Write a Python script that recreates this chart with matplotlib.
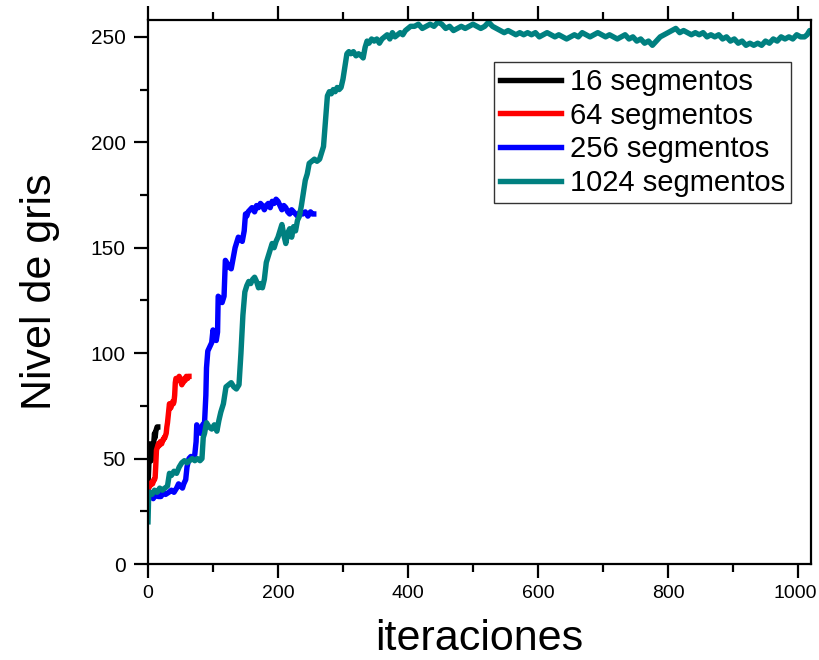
import matplotlib
matplotlib.use("Agg")
import matplotlib.pyplot as plt
import matplotlib.transforms as mtransforms
from matplotlib.ticker import MultipleLocator

plt.rcParams['font.family'] = ['Liberation Sans', 'DejaVu Sans']

# ---- data ----
labels = ["16 segmentos", "64 segmentos", "256 segmentos", "1024 segmentos"]
colors = ["#000000", "#ff0000", "#0000ff", "#008080"]

x16 = list(range(16))
y16 = [38, 45, 54, 57, 52, 49, 53, 56, 55, 58, 62, 60, 63, 64, 65, 65]

y64 = [35, 36, 37, 37, 38, 38, 39, 38, 39, 40,
       40, 41, 47, 54, 55, 56, 57, 56, 57, 58,
       58, 57, 58, 59, 59, 60, 60, 61, 62, 65,
       67, 70, 73, 76, 75, 74, 75, 76, 77, 76,
       77, 80, 86, 88, 88, 87, 88, 88, 89, 88,
       87, 86, 85, 86, 86, 87, 88, 87, 88, 89,
       88, 88, 89, 89]
x64 = list(range(len(y64)))

x256 = [0, 2, 5, 8, 12, 16, 20, 23, 27, 32,
        36, 40, 44, 47, 50, 53, 55, 58, 60, 63,
        66, 70, 72, 74, 75, 78, 81, 84, 87, 89,
        90, 92, 95, 98, 100, 102, 105, 107, 108, 111,
        114, 117, 119, 121, 124, 128, 131, 134, 136, 139,
        142, 145, 148, 150, 152, 154, 157, 160, 164, 167,
        170, 173, 176, 179, 182, 185, 188, 191, 194, 197,
        200, 203, 206, 209, 212, 215, 218, 221, 224, 227,
        230, 234, 238, 242, 246, 250, 253, 255]
y256 = [31, 34, 32, 31, 33, 32, 32, 34, 33, 34,
        35, 34, 36, 38, 37, 36, 38, 40, 46, 50,
        51, 50, 52, 58, 66, 64, 62, 66, 67, 80,
        93, 101, 103, 105, 111, 108, 106, 110, 127, 126,
        124, 127, 144, 143, 141, 140, 145, 150, 152, 155,
        154, 153, 158, 166, 165, 167, 168, 169, 167, 170,
        169, 171, 170, 168, 170, 171, 169, 172, 171, 173,
        172, 170, 168, 170, 169, 167, 166, 168, 167, 166,
        165, 167, 166, 167, 165, 167, 166, 166]

x1024 = [0, 1, 3, 6, 10, 14, 18, 22, 26, 30,
         33, 36, 40, 44, 48, 52, 56, 60, 64, 68,
         72, 76, 80, 83, 85, 87, 90, 94, 98, 102,
         106, 109, 112, 116, 120, 124, 128, 132, 136, 140,
         143, 146, 149, 152, 155, 158, 161, 164, 167, 170,
         173, 176, 179, 182, 185, 188, 191, 194, 197, 200,
         203, 206, 209, 212, 215, 218, 221, 224, 227, 230,
         233, 236, 239, 242, 245, 248, 252, 256, 260, 264,
         267, 270, 273, 276, 279, 282, 285, 288, 291, 294,
         297, 300, 303, 306, 309, 312, 316, 320, 324, 328,
         331, 334, 337, 340, 344, 348, 352, 356, 360, 364,
         368, 372, 376, 380, 384, 388, 392, 396, 400, 404,
         410, 416, 422, 428, 434, 440, 446, 452, 458, 464,
         470, 476, 482, 488, 494, 500, 506, 512, 518, 524,
         530, 536, 542, 548, 554, 560, 566, 572, 578, 584,
         590, 596, 602, 608, 614, 620, 626, 632, 638, 644,
         650, 656, 662, 668, 674, 680, 686, 692, 698, 704,
         710, 716, 722, 728, 734, 740, 746, 752, 758, 764,
         770, 776, 782, 788, 794, 800, 806, 812, 818, 824,
         830, 836, 842, 848, 854, 860, 866, 872, 878, 884,
         890, 896, 902, 908, 914, 920, 926, 932, 938, 944,
         950, 956, 962, 968, 974, 980, 986, 992, 998, 1004,
         1010, 1014, 1018, 1023]
y1024 = [20, 32, 34, 33, 35, 34, 36, 35, 36, 37,
         43, 42, 44, 43, 46, 48, 49, 48, 49, 50,
         49, 50, 49, 50, 60, 62, 67, 65, 64, 66,
         63, 68, 72, 76, 84, 85, 86, 84, 83, 85,
         100, 118, 129, 132, 134, 133, 135, 136, 134, 131,
         133, 131, 135, 143, 146, 149, 152, 150, 153, 155,
         158, 161, 156, 152, 157, 159, 155, 160, 158, 163,
         165, 170, 176, 182, 185, 190, 191, 192, 191, 192,
         195, 198, 210, 222, 224, 223, 225, 224, 226, 225,
         226, 230, 236, 242, 243, 242, 243, 241, 242, 241,
         240, 245, 248, 247, 249, 248, 249, 247, 249, 250,
         251, 249, 252, 250, 251, 252, 251, 253, 254, 255,
         255, 256, 254, 255, 256, 255, 257, 256, 254, 255,
         253, 254, 255, 254, 255, 256, 255, 254, 255, 257,
         255, 254, 253, 252, 253, 252, 251, 252, 251, 252,
         251, 252, 250, 251, 252, 251, 250, 251, 250, 249,
         250, 251, 250, 252, 251, 250, 251, 252, 251, 250,
         251, 250, 249, 250, 251, 249, 250, 248, 249, 247,
         248, 246, 248, 250, 251, 252, 253, 254, 252, 253,
         252, 251, 252, 251, 252, 250, 251, 250, 251, 249,
         250, 248, 249, 247, 248, 246, 247, 246, 247, 246,
         248, 247, 249, 248, 250, 249, 250, 249, 251, 250,
         250, 251, 253, 251]

xticks = [0, 200, 400, 600, 800, 1000]
yticks = [0, 50, 100, 150, 200, 250]

# ---- figure ----
fig = plt.figure(figsize=(8.19, 6.60), dpi=100)
ax = fig.add_axes([148/819, 1 - 564/660, (811-148)/819, (564-20)/660])

series = [(x16, y16), (x64, y64), (x256, y256), (x1024, y1024)]
for (xs, ys), lab, col in zip(series, labels, colors):
    ax.plot(xs, ys, color=col, lw=3.9, label=lab, solid_joinstyle='round')

ax.set_xlim(0, 1020)
ax.set_ylim(0, 258)
ax.set_xticks(xticks)
ax.set_yticks(yticks)
ax.xaxis.set_minor_locator(MultipleLocator(100))
ax.yaxis.set_minor_locator(MultipleLocator(25))

for sp in ax.spines.values():
    sp.set_linewidth(1.6)

ax.tick_params(axis='both', which='major', direction='out', length=10, width=1.6,
               labelsize=15, top=True, right=False, labeltop=False)
ax.tick_params(axis='both', which='minor', direction='out', length=6, width=1.6,
               top=True, right=False)
ax.tick_params(axis='x', which='major', pad=5, labelsize=14)
ax.tick_params(axis='y', which='major', pad=6)

# keep the last x tick label inside the canvas
fig.canvas.draw()
last = ax.get_xticklabels()[-1]
last.set_transform(last.get_transform() +
                   mtransforms.ScaledTranslation(-3/100, 0, fig.dpi_scale_trans))

ax.set_xlabel("iteraciones", fontsize=31, labelpad=12)
ax.set_ylabel("Nivel de gris", fontsize=31, labelpad=22)

leg = ax.legend(loc='upper right', bbox_to_anchor=((791-148)/(811-148), (564-62)/(564-20)),
                borderaxespad=0, fontsize=21, frameon=True, fancybox=False,
                handlelength=2.1, handletextpad=0.3, labelspacing=0.2,
                borderpad=0.2)
leg.get_frame().set_edgecolor('black')
leg.get_frame().set_linewidth(1.0)
for line in leg.get_lines():
    line.set_linewidth(3.9)

fig.savefig("out.png", dpi=100)
